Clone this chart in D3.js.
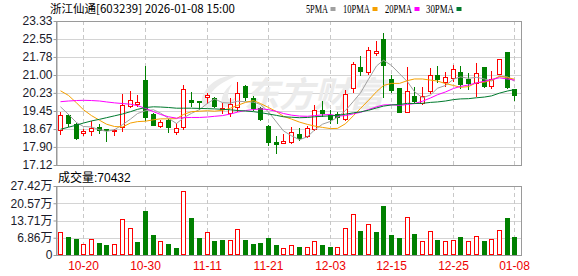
<!DOCTYPE html>
<html><head><meta charset="utf-8">
<script src="https://cdn.jsdelivr.net/npm/d3@7/dist/d3.min.js"></script>
<style>body{margin:0;background:#fff;} svg{display:block;}</style>
</head><body><svg id="c" width="578" height="276"></svg>
<script>
const dates = ["2025-10-15","2025-10-16","2025-10-17","2025-10-20","2025-10-21","2025-10-22","2025-10-23","2025-10-24","2025-10-27","2025-10-28",
"2025-10-29","2025-10-30","2025-10-31","2025-11-03","2025-11-04","2025-11-05","2025-11-06","2025-11-07","2025-11-10","2025-11-11",
"2025-11-12","2025-11-13","2025-11-14","2025-11-17","2025-11-18","2025-11-19","2025-11-20","2025-11-21","2025-11-24","2025-11-25",
"2025-11-26","2025-11-27","2025-11-28","2025-12-01","2025-12-02","2025-12-03","2025-12-04","2025-12-05","2025-12-08","2025-12-09",
"2025-12-10","2025-12-11","2025-12-12","2025-12-15","2025-12-16","2025-12-17","2025-12-18","2025-12-19","2025-12-22","2025-12-23",
"2025-12-24","2025-12-25","2025-12-26","2025-12-29","2025-12-30","2025-12-31","2026-01-05","2026-01-06","2026-01-07","2026-01-08"];
const open  = [18.63,19.26,18.87,18.51,18.60,18.76,18.67,18.60,18.77,19.66, 19.76,20.79,19.32,18.80,19.06,18.53,18.74,19.92,19.88,20.04,
19.99,19.52,19.38,19.64,20.53,19.99,19.56,18.80,18.10,18.08, 18.13,18.46,18.39,18.67,19.49,19.29,19.31,19.10,20.43,21.33,
21.15,21.94,22.54,20.81,20.43,19.42,20.10,19.81,20.30,20.99, 20.72,20.89,21.13,20.84,20.64,21.33,20.54,21.03,21.98,20.38];
const high  = [19.42,19.30,18.92,18.66,19.00,18.87,18.67,18.69,20.18,20.33, 20.12,21.40,19.35,19.06,19.09,18.92,20.56,20.28,19.88,20.21,
20.04,19.78,19.99,20.70,20.56,20.09,19.63,18.85,18.37,18.46, 18.74,18.70,18.80,19.71,19.89,19.49,19.41,20.35,21.55,21.82,
22.19,22.48,22.83,21.00,20.43,21.36,20.50,20.47,21.29,21.39, 21.13,21.43,21.39,21.07,21.50,21.33,21.17,21.68,21.98,20.38];
const low   = [18.46,18.80,18.25,18.43,18.43,18.51,18.14,18.41,18.60,19.60, 19.68,19.06,18.84,18.77,18.56,18.44,18.66,19.68,19.53,19.81,
19.61,19.35,19.23,19.43,19.92,19.49,19.06,18.00,17.65,18.08, 18.05,18.20,18.34,18.63,19.23,18.95,18.92,19.06,20.28,21.00,
21.03,21.86,20.04,20.28,19.42,19.42,19.78,19.75,20.21,20.71, 20.53,20.76,20.43,20.38,20.10,20.47,20.43,21.03,20.43,19.92];
const close = [19.26,18.95,18.30,18.60,18.71,18.63,18.62,18.65,19.69,19.92, 19.82,19.20,18.85,18.99,18.77,18.73,20.40,19.85,19.82,20.12,
19.68,19.58,19.74,20.21,20.04,19.56,19.12,18.11,18.01,18.14, 18.53,18.28,18.73,19.49,19.38,19.12,19.18,20.18,21.47,21.19,
22.07,22.02,21.43,20.35,19.42,20.31,19.89,20.11,20.99,20.85, 20.90,21.25,20.63,20.67,21.07,20.53,20.81,21.68,20.50,20.15];
const volume = [92600,70000,62000,42400,62000,47700,38400,42400,141800,106000, 51700,175000,79500,54300,43700,27800,253000,147000,67600,90000,
55600,58300,58300,102000,59600,43700,47700,67600,39700,26500, 38400,31800,30500,54300,38400,31800,30500,106000,162000,94000,
122000,91400,195000,79500,66000,149700,83500,54300,94000,59600, 54300,58300,70200,54300,74200,55600,62300,98000,147000,70432];
const ma5  = [19.63,19.30,18.95,18.78,18.76,18.64,18.57,18.64,18.86,19.10, 19.34,19.46,19.50,19.36,19.13,18.91,19.15,19.35,19.51,19.78,
19.97,19.81,19.79,19.87,19.85,19.83,19.73,19.41,18.97,18.59, 18.38,18.21,18.34,18.63,18.88,19.00,19.18,19.47,19.87,20.23,
20.82,21.39,21.64,21.41,21.06,20.71,20.28,20.02,20.14,20.43, 20.55,20.82,20.92,20.86,20.90,20.83,20.74,20.95,20.92,20.73];
const ma10 = [20.32,20.12,19.80,19.50,19.25,19.05,18.88,18.78,18.76,18.93, 18.99,19.01,19.07,19.11,19.11,19.12,19.30,19.42,19.44,19.46,
19.44,19.48,19.57,19.69,19.82,19.90,19.77,19.60,19.42,19.22, 19.10,18.97,18.87,18.80,18.74,18.69,18.70,18.90,19.25,19.56,
19.91,20.28,20.55,20.64,20.64,20.76,20.83,20.83,20.78,20.74, 20.63,20.55,20.47,20.50,20.67,20.69,20.78,20.94,20.89,20.82];
const ma20 = [19.85,19.88,19.90,19.91,19.90,19.88,19.84,19.80,19.77,19.74, 19.68,19.56,19.42,19.30,19.20,19.14,19.16,19.17,19.17,19.19,
19.22,19.25,19.32,19.40,19.47,19.51,19.54,19.51,19.43,19.34, 19.27,19.23,19.22,19.25,19.28,19.30,19.23,19.25,19.33,19.39,
19.51,19.63,19.71,19.72,19.69,19.73,19.77,19.87,20.01,20.15, 20.27,20.42,20.51,20.57,20.66,20.73,20.81,20.88,20.83,20.78];
const ma30 = [18.66,18.75,18.84,18.93,19.02,19.09,19.16,19.24,19.32,19.42, 19.52,19.60,19.63,19.62,19.60,19.57,19.57,19.57,19.56,19.55,
19.54,19.52,19.50,19.47,19.45,19.42,19.38,19.32,19.26,19.20, 19.18,19.16,19.17,19.20,19.22,19.24,19.26,19.31,19.37,19.41,
19.48,19.58,19.66,19.71,19.73,19.78,19.77,19.78,19.82,19.84, 19.88,19.94,19.97,19.98,20.02,20.05,20.10,20.22,20.31,20.37];
const priceTicks = [23.33,22.55,21.78,21.00,20.23,19.45,18.67,17.90,17.12];
const priceTickLabels = ["23.33","22.55","21.78","21.00","20.23","19.45","18.67","17.90","17.12"];
const volTicks = [274200,205700,137100,68600,0];
const volTickLabels = ["27.42万","20.57万","13.71万","6.86万","0"];
const dateTicks = ["2025-10-20","2025-10-30","2025-11-11","2025-11-21","2025-12-03","2025-12-15","2025-12-25","2026-01-08"];
const maNames = ["5PMA","10PMA","20PMA","30PMA"];
const maColors = ["#a0a0a0","#f5a000","#ff00ff","#007a2e"];
const title = "浙江仙通[603239] 2026-01-08 15:00";
const volTitle = "成交量:70432";

const UP = "#ff0000", DOWN = "#008000";
const svg = d3.select("#c");
const L = 56, R = 522, PT = 21, PB = 165, VT = 186, VB = 255;
const FONT = "'Liberation Sans', Arial, 'Noto Sans CJK SC', sans-serif";

const x = d3.scaleBand().domain(dates).range([56.45, 518.15]);
const cx = d => Math.round(x(d) + x.bandwidth()/2) + 0.5;
const y = d3.scaleLinear().domain([17.12, 23.33]).range([PB, PT]);
const yv = d3.scaleLinear().domain([0, 274200]).range([VB, VT]);

const data = dates.map((d,i)=>({d, o:open[i], h:high[i], l:low[i], c:close[i], v:volume[i],
  volUp: i===0 ? close[i]>=open[i] : close[i]>=close[i-1]}));

// grid
const g = svg.append("g");
[[PT,PB,y,priceTicks],[VT,VB,yv,volTicks]].forEach(([t,b,sc,ticks])=>{
  g.selectAll(null).data(ticks).enter().append("line")
    .attr("x1",L).attr("x2",R).attr("y1",d=>Math.round(sc(d))+0.5).attr("y2",d=>Math.round(sc(d))+0.5)
    .attr("stroke","#d4d4d4");
  g.selectAll(null).data(dateTicks).enter().append("line")
    .attr("x1",d=>cx(d)).attr("x2",d=>cx(d)).attr("y1",t).attr("y2",b)
    .attr("stroke","#c8c8c8").attr("stroke-dasharray","4,3");
});

// watermark
const wm = svg.append("g").attr("fill","#ebebeb");
wm.append("path").attr("d","M236,76 C222,74 206,84 202,98 C200,106 206,110 214,106 C208,104 207,98 212,92 C218,84 228,80 236,76 Z M232,84 C224,90 220,98 222,106 C226,110 234,104 236,96 C234,100 228,102 228,96 C228,92 230,88 232,84 Z");
wm.append("text").attr("x",244).attr("y",107).attr("font-size",35).attr("font-weight","bold")
  .attr("font-family","'Noto Sans CJK SC', sans-serif").attr("font-style","italic").text("东方财富");

// frames
[[PT,PB],[VT,VB]].forEach(([t,b])=>{
  svg.append("rect").attr("x",L+0.5).attr("y",t+0.5).attr("width",R-L-1).attr("height",b-t)
    .attr("fill","none").attr("stroke","#9a9a9a");
});

// candles
const cg = svg.append("g");
data.forEach(p=>{
  const X = cx(p.d), up = p.c >= p.o, col = up ? UP : DOWN;
  cg.append("line").attr("x1",X).attr("x2",X).attr("y1",Math.round(y(p.h))).attr("y2",Math.round(y(p.l))+1)
    .attr("stroke",col);
  const top = Math.round(y(Math.max(p.o,p.c))), bot = Math.round(y(Math.min(p.o,p.c)));
  if(up){
    cg.append("rect").attr("x",X-2).attr("y",top+0.5).attr("width",4).attr("height",Math.max(1,bot-top))
      .attr("fill","#fff").attr("stroke",UP);
  } else {
    cg.append("rect").attr("x",X-2.5).attr("y",top).attr("width",5).attr("height",Math.max(1,bot-top+1))
      .attr("fill",DOWN);
  }
});

// MA lines
[ma5,ma10,ma20,ma30].forEach((arr,k)=>{
  svg.append("path").datum(arr).attr("fill","none").attr("stroke",maColors[k]).attr("stroke-width",1)
    .attr("d", d3.line().x((v,i)=>cx(dates[i])).y(v=>y(v)));
});

// volume
const vg = svg.append("g");
data.forEach(p=>{
  const X = cx(p.d), top = Math.round(yv(p.v));
  if(p.volUp){
    vg.append("rect").attr("x",X-2).attr("y",top+0.5).attr("width",4).attr("height",VB-top-1)
      .attr("fill","#fff").attr("stroke",UP);
  } else {
    vg.append("rect").attr("x",X-2.5).attr("y",top).attr("width",5).attr("height",VB-top)
      .attr("fill",DOWN);
  }
});

// axes
function styleAxis(sel){
  sel.selectAll(".domain").attr("stroke","#9a9a9a");
  sel.selectAll(".tick line").attr("stroke","#9a9a9a");
  sel.selectAll("text").attr("font-family",FONT).attr("font-size",12).attr("fill","#1a1a2a");
}
const ay = svg.append("g").attr("transform",`translate(${L+0.5},0)`)
  .call(d3.axisLeft(y).tickValues(priceTicks).tickFormat((d,i)=>priceTickLabels[i]).tickSize(3).tickPadding(1).tickSizeOuter(0));
styleAxis(ay);
const av = svg.append("g").attr("transform",`translate(${L+0.5},0)`)
  .call(d3.axisLeft(yv).tickValues(volTicks).tickFormat((d,i)=>volTickLabels[i]).tickSize(3).tickPadding(1).tickSizeOuter(0));
styleAxis(av);
const ax = svg.append("g").attr("transform",`translate(0,${VB})`)
  .call(d3.axisBottom(x).tickValues(dateTicks).tickFormat(d=>d.slice(5)).tickSize(0).tickPadding(6.5));
ax.select(".domain").remove();
ax.selectAll(".tick").attr("transform",d=>`translate(${cx(d)},0)`);
ax.selectAll("text").attr("font-family",FONT).attr("font-size",12).attr("fill","#ee0000");

// header
svg.append("text").attr("x",50).attr("y",13).attr("font-size",11.5)
  .attr("font-family","'Noto Sans CJK SC', sans-serif").attr("fill","#000").text(title);
const legX = [306,343,385,426], legW = [22,27,27,28];
maNames.forEach((n,k)=>{
  svg.append("text").attr("x",legX[k]).attr("y",13).attr("font-size",12)
    .attr("font-family","'Liberation Serif', serif").attr("textLength",legW[k]).attr("lengthAdjust","spacingAndGlyphs")
    .attr("fill","#000").text(n);
  svg.append("rect").attr("x",legX[k]+legW[k]+2.5).attr("y",7).attr("width",5).attr("height",4).attr("fill",maColors[k]);
});
svg.append("text").attr("x",58).attr("y",182).attr("font-size",12).attr("font-family",FONT).attr("fill","#000").text(volTitle);
</script></body></html>
